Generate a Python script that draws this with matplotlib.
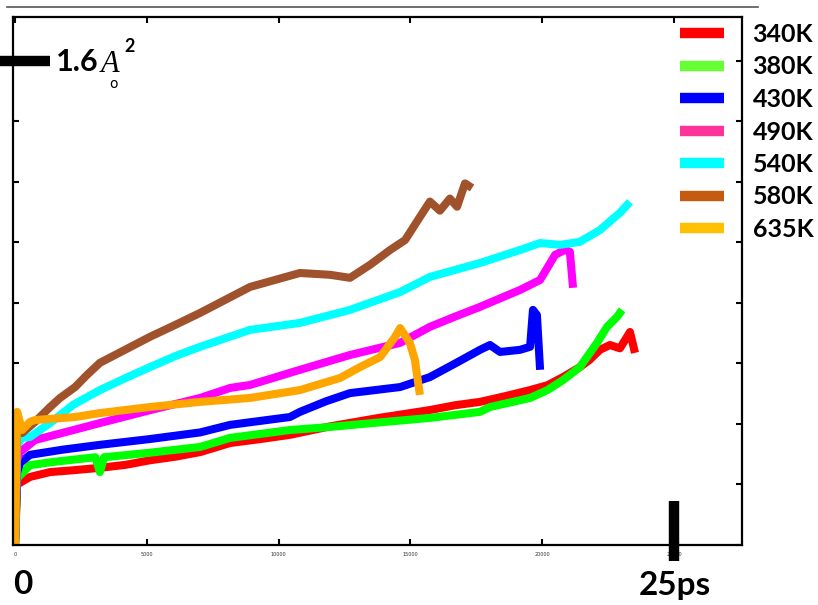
import matplotlib
matplotlib.use('Agg')
import matplotlib.pyplot as plt
from matplotlib.lines import Line2D

# ---------------- data (time in ps, MSD in Å^2) ----------------
temps = ['340K', '380K', '430K', '490K', '540K', '580K', '635K']

t_340 = [0, 0.08, 0.57, 1.33, 2.2, 3.22, 4.2, 5.12, 6.1, 7.02, 8.16, 9.3, 10.43, 11.95, 13.8, 15.74, 16.7, 17.64, 18.6, 19.54, 20.2, 20.79, 21.43, 21.8, 22.19, 22.57, 22.95, 23.33, 23.52]
m_340 = [0, 0.20, 0.225, 0.241, 0.247, 0.255, 0.265, 0.28, 0.292, 0.307, 0.337, 0.350, 0.364, 0.392, 0.42, 0.446, 0.462, 0.473, 0.492, 0.512, 0.528, 0.555, 0.588, 0.612, 0.645, 0.661, 0.650, 0.704, 0.635]

t_380 = [0, 0.08, 0.57, 1.5, 3.05, 3.22, 3.38, 5.12, 7.02, 8.16, 10.43, 11.95, 13.8, 15.74, 17.64, 18.02, 19.54, 20.2, 20.79, 21.43, 22.08, 22.46, 22.84, 23.03]
m_380 = [0, 0.22, 0.264, 0.275, 0.29, 0.241, 0.29, 0.305, 0.324, 0.354, 0.380, 0.390, 0.405, 0.420, 0.440, 0.456, 0.486, 0.512, 0.545, 0.588, 0.668, 0.721, 0.754, 0.777]

t_430 = [0, 0.08, 0.19, 0.57, 1.8, 3.22, 5.1, 7.02, 8.16, 10.43, 10.81, 11.8, 12.71, 14.61, 15.74, 16.7, 17.64, 18.02, 18.40, 19.16, 19.54, 19.65, 19.80, 19.92]
m_430 = [0, 0.24, 0.271, 0.298, 0.315, 0.331, 0.350, 0.372, 0.397, 0.423, 0.440, 0.475, 0.502, 0.522, 0.555, 0.600, 0.645, 0.661, 0.638, 0.645, 0.655, 0.777, 0.760, 0.579]

t_490 = [0, 0.08, 0.19, 0.76, 2.0, 3.22, 5.1, 7.02, 8.16, 8.92, 10.81, 12.71, 14.61, 15.74, 16.7, 17.64, 19.16, 19.92, 20.49, 20.86, 21.05, 21.17]
m_490 = [0, 0.28, 0.307, 0.347, 0.375, 0.403, 0.445, 0.486, 0.519, 0.529, 0.579, 0.628, 0.668, 0.721, 0.755, 0.787, 0.843, 0.876, 0.959, 0.975, 0.969, 0.850]

t_540 = [0, 0.08, 0.27, 0.57, 1.33, 2.2, 3.22, 4.2, 5.12, 6.1, 7.02, 8.92, 10.81, 12.71, 14.61, 15.74, 17.64, 19.16, 19.92, 20.68, 21.43, 22.19, 22.95, 23.33]
m_540 = [0, 0.33, 0.354, 0.357, 0.403, 0.463, 0.512, 0.552, 0.588, 0.625, 0.655, 0.711, 0.734, 0.777, 0.836, 0.886, 0.932, 0.975, 0.998, 0.992, 1.002, 1.041, 1.098, 1.134]

t_580 = [0, 0.08, 0.27, 0.76, 1.33, 1.71, 2.28, 2.73, 3.22, 4.17, 5.12, 6.07, 7.02, 7.97, 8.92, 10.81, 11.95, 12.71, 13.47, 14.23, 14.80, 15.36, 15.74, 16.12, 16.50, 16.77, 17.07, 17.34]
m_580 = [0, 0.413, 0.370, 0.407, 0.456, 0.486, 0.522, 0.562, 0.602, 0.645, 0.688, 0.727, 0.767, 0.810, 0.853, 0.899, 0.893, 0.883, 0.926, 0.975, 1.008, 1.084, 1.135, 1.105, 1.145, 1.118, 1.195, 1.180]

t_635 = [0, 0.08, 0.27, 0.57, 0.76, 2.28, 3.22, 5.12, 7.02, 8.92, 10.81, 12.33, 13.09, 13.85, 14.42, 14.61, 14.98, 15.17, 15.36]
m_635 = [0, 0.44, 0.380, 0.407, 0.413, 0.423, 0.436, 0.456, 0.473, 0.486, 0.512, 0.552, 0.588, 0.621, 0.688, 0.717, 0.668, 0.612, 0.496]

line_colors = ['#FF0000', '#00FF00', '#0000FF', '#FF00FF', '#00FFFF', '#A0522D', '#FFA500']
legend_colors = ['#FF0000', '#66FF33', '#0000FF', '#FF3399', '#00FFFF', '#C55A11', '#FFC000']

xticks = [0, 5, 10, 15, 20, 25]
xtick_labels = ['0', '5000', '10000', '15000', '20000', '25000']
yticks = [0, 0.2, 0.4, 0.6, 0.8, 1.0, 1.2, 1.4, 1.6]

# ---------------- figure ----------------
W, H = 818, 605
fig = plt.figure(figsize=(W / 100, H / 100), dpi=100)
ax = fig.add_axes([13 / W, 1 - 545 / H, (742 - 13) / W, (545 - 17) / H])

series_t = [t_340, t_380, t_430, t_490, t_540, t_580, t_635]
series_m = [m_340, m_380, m_430, m_490, m_540, m_580, m_635]
for tt, mm, c in zip(series_t, series_m, line_colors):
    ax.plot(tt, mm, color=c, lw=5.8, solid_joinstyle='round', solid_capstyle='butt')

ax.set_xlim(-0.076, 27.58)
ax.set_ylim(0, 1.745)

ax.set_xticks(xticks)
ax.set_xticklabels(xtick_labels, fontsize=3.5, color='#333333')
ax.set_yticks(yticks)
ax.set_yticklabels([])
ax.tick_params(direction='in', length=4, width=1.5, top=True, right=True, pad=5)
for s in ax.spines.values():
    s.set_linewidth(1.6)

# legend
handles = [Line2D([], [], color=c, lw=7.5, solid_capstyle='butt') for c in legend_colors]
leg = fig.legend(handles, temps, loc='upper left', bbox_to_anchor=(680 / W, 1 - 23 / H),
                 frameon=False, borderpad=0, borderaxespad=0, handlelength=1.75,
                 handletextpad=1.15, labelspacing=0.38,
                 prop={'family': 'Lato', 'weight': 'bold', 'size': 18})

# thick marks for scale
ax.plot([-0.57, 1.33], [1.6, 1.6], color='black', lw=7.5, solid_capstyle='butt', clip_on=False)
ax.plot([25, 25], [0.145, -0.053], color='black', lw=7.5, solid_capstyle='butt', clip_on=False)

def fx(x):
    return x / W

def fy(y):
    return 1 - y / H

fig.text(fx(56), fy(62), '1.6', fontsize=22, fontweight='bold', family='Lato', va='center', ha='left')
fig.text(fx(101), fy(64), 'A', fontsize=22, family='Liberation Serif', style='italic', va='center', ha='left')
fig.text(fx(124), fy(47), '2', fontsize=13, family='Lato', fontweight='bold', va='center', ha='left')
fig.text(fx(113), fy(84), 'o', fontsize=10, family='DejaVu Sans', va='center', ha='center')

fig.text(fx(23), fy(585), '0', fontsize=24, fontweight='bold', family='Lato', va='center', ha='center')
fig.text(fx(675), fy(585), '25ps', fontsize=24, fontweight='bold', family='Lato', va='center', ha='center')

# thin rule at top
fig.add_artist(Line2D([fx(7), fx(758)], [fy(6.5), fy(6.5)], color='#555555', lw=1.2))

fig.savefig('out.png', dpi=100)
